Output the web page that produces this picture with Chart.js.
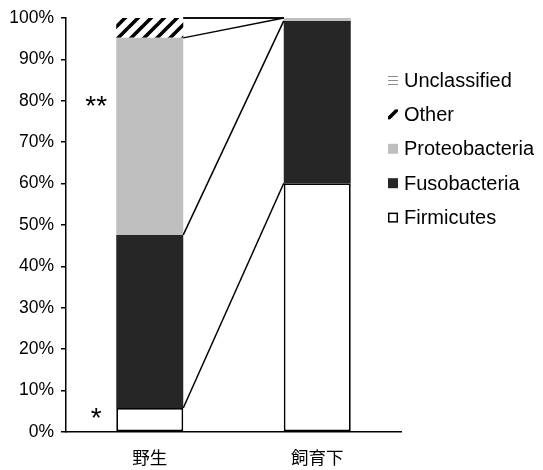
<!DOCTYPE html>
<html>
<head>
<meta charset="utf-8">
<script src="https://cdn.jsdelivr.net/npm/chart.js@4"></script>
<style>
  html, body { margin: 0; padding: 0; background: #fff; }
  #wrap { width: 543px; height: 470px; }
</style>
</head>
<body>
<div id="wrap"><canvas id="phylumChart"></canvas></div>
<script>
const categories = ['野生', '飼育下'];
const firmicutes = [5.8, 60.1];
const fusobacteria = [41.8, 39.2];
const proteobacteria = [47.6, 0.7];
const other = [4.8, 0];
const unclassified = [0, 0];
const yTicks = [0, 10, 20, 30, 40, 50, 60, 70, 80, 90, 100];
// significance marks next to the first bar
const marks = [{ text: '**', value: 79.5 }, { text: '*', value: 4 }];

function hatch() {
    const s = 13;
    const c = document.createElement('canvas');
    c.width = s; c.height = s;
    const g = c.getContext('2d');
    g.fillStyle = '#fff';
    g.fillRect(0, 0, s, s);
    g.strokeStyle = '#000';
    g.lineWidth = 3.6;
    g.beginPath();
    g.moveTo(0, s); g.lineTo(s, 0);
    g.moveTo(-s / 2, s / 2); g.lineTo(s / 2, -s / 2);
    g.moveTo(s / 2, s * 1.5); g.lineTo(s * 1.5, s / 2);
    g.stroke();
    return g.createPattern(c, 'repeat');
}

function hlines() {
    const c = document.createElement('canvas');
    c.width = 4; c.height = 4;
    const g = c.getContext('2d');
    g.fillStyle = '#fff';
    g.fillRect(0, 0, 4, 4);
    g.fillStyle = '#8c8c8c';
    g.fillRect(0, 0, 4, 1);
    return g.createPattern(c, 'repeat');
}

const seriesLines = {
    id: 'seriesLines',
    afterDatasetsDraw(chart) {
        const ctx = chart.ctx;
        ctx.save();
        ctx.strokeStyle = '#000';
        ctx.lineWidth = 1.5;
        chart.data.datasets.forEach((ds, i) => {
            const els = chart.getDatasetMeta(i).data;
            const a = els[0], b = els[1];
            ctx.beginPath();
            ctx.moveTo(a.x + a.width / 2, a.y);
            ctx.lineTo(b.x - b.width / 2, b.y);
            ctx.stroke();
        });
        // asterisks
        const x0 = chart.getDatasetMeta(0).data[0];
        ctx.fillStyle = '#000';
        ctx.font = '28px "Liberation Sans", Arial, sans-serif';
        ctx.textAlign = 'center';
        ctx.textBaseline = 'alphabetic';
        marks.forEach(m => {
            const y = chart.scales.y.getPixelForValue(m.value);
            ctx.fillText(m.text, x0.x - x0.width / 2 - 20, y + 12);
        });
        ctx.restore();
    }
};

const sideLegend = {
    id: 'sideLegend',
    afterDraw(chart) {
        const ctx = chart.ctx;
        const sets = chart.data.datasets.slice().reverse();
        const left = chart.chartArea.right - 13;
        ctx.save();
        ctx.font = '20px "Liberation Sans", Arial, sans-serif';
        ctx.textBaseline = 'middle';
        ctx.textAlign = 'left';
        sets.forEach((ds, i) => {
            const cy = 80 + i * 34.4;
            ctx.fillStyle = ds.backgroundColor;
            ctx.fillRect(left, cy - 5, 10, 10);
            if (ds.borderWidth) {
                ctx.strokeStyle = ds.borderColor;
                ctx.lineWidth = 1.5;
                ctx.strokeRect(left + 0.75, cy - 4.25, 8.5, 8.5);
            }
            ctx.fillStyle = '#000';
            ctx.fillText(ds.label, left + 16, cy + 1);
        });
        ctx.restore();
    }
};

const ctx1 = document.getElementById('phylumChart').getContext('2d');
const phylumChart = new Chart(ctx1, {
    type: 'bar',
    data: {
        labels: categories,
        datasets: [
            { label: 'Firmicutes', data: firmicutes, backgroundColor: '#ffffff', borderColor: '#000', borderWidth: 1.8, borderSkipped: false },
            { label: 'Fusobacteria', data: fusobacteria, backgroundColor: '#262626', borderWidth: 0 },
            { label: 'Proteobacteria', data: proteobacteria, backgroundColor: '#bfbfbf', borderWidth: 0 },
            { label: 'Other', data: other, backgroundColor: hatch(), borderWidth: 0 },
            { label: 'Unclassified', data: unclassified, backgroundColor: hlines(), borderWidth: 0 }
        ]
    },
    options: {
        responsive: true,
        maintainAspectRatio: false,
        animation: false,
        layout: { padding: { top: 18, right: 142, bottom: 0, left: 0 } },
        plugins: { legend: { display: false }, tooltip: { enabled: false } },
        datasets: { bar: { categoryPercentage: 1, barPercentage: 0.4 } },
        scales: {
            x: {
                stacked: true,
                grid: { display: false, drawTicks: false },
                border: { color: '#000', width: 1.5 },
                ticks: {
                    color: '#000',
                    padding: 15,
                    font: { family: '"Noto Sans CJK JP", sans-serif', size: 17.5 }
                },
                afterFit(scale) { scale.height = 38; }
            },
            y: {
                stacked: true,
                min: 0,
                max: 100,
                afterBuildTicks(scale) { scale.ticks = yTicks.map(v => ({ value: v })); },
                grid: { drawOnChartArea: false, drawTicks: true, tickLength: 5, color: '#000', lineWidth: 1.5 },
                border: { color: '#000', width: 1.5 },
                ticks: {
                    color: '#000',
                    padding: 7,
                    font: { family: '"Liberation Sans", Arial, sans-serif', size: 17.5 },
                    callback: v => v + '%'
                },
                afterFit(scale) { scale.width = 66; }
            }
        }
    },
    plugins: [seriesLines, sideLegend]
});
</script>
</body>
</html>
